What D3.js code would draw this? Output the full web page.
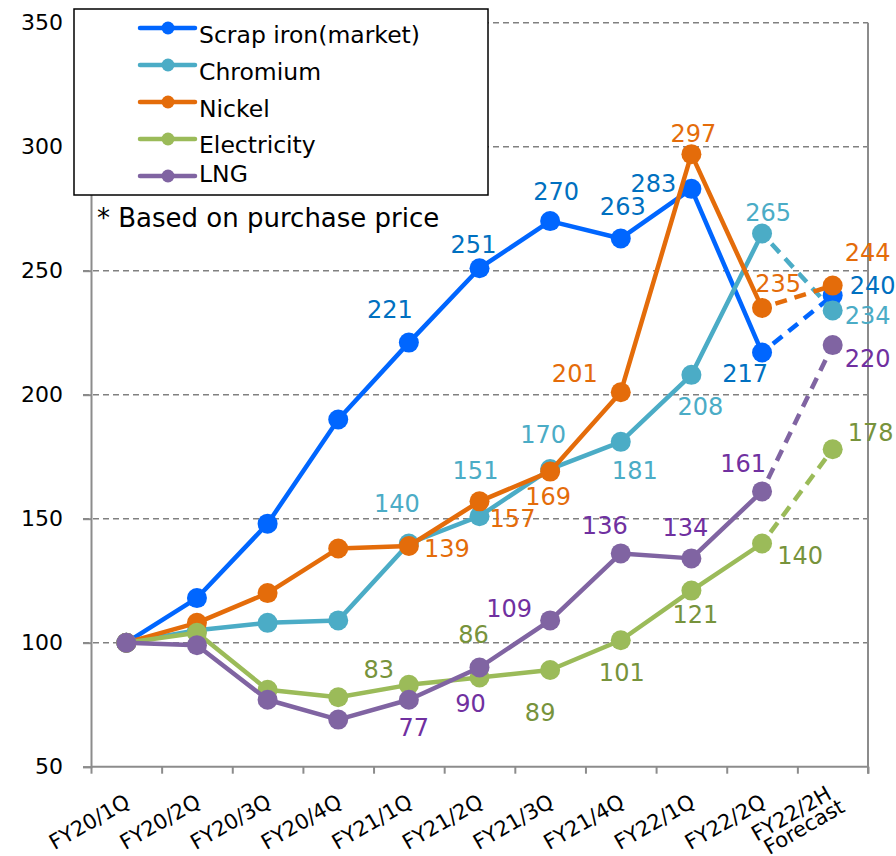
<!DOCTYPE html>
<html>
<head>
<meta charset="utf-8">
<title>Cost index</title>
<script src="https://d3js.org/d3.v7.min.js"></script>
<style>
    body {
        margin: 0;
        background: #ffffff;
        font-family: "DejaVu Sans", Verdana, sans-serif;
    }
    .grid line {
        stroke: #808080;
        stroke-width: 1.5;
        stroke-dasharray: 6, 4;
    }
    .axis path, .axis line {
        stroke: #8c8c8c;
        stroke-width: 2;
    }
    .axis text {
        fill: #000;
    }
    .val {
        font-size: 24px;
        text-anchor: middle;
    }
</style>
</head>
<body>
<script>
    // DATA //
    var categories = ["FY20/1Q", "FY20/2Q", "FY20/3Q", "FY20/4Q", "FY21/1Q", "FY21/2Q",
                      "FY21/3Q", "FY21/4Q", "FY22/1Q", "FY22/2Q", "FY22/2H"];
    var scrapIron   = [100, 118, 148, 190, 221, 251, 270, 263, 283, 217, 240];
    var chromium    = [100, 105, 108, 109, 140, 151, 170, 181, 208, 265, 234];
    var nickel      = [100, 108, 120, 138, 139, 157, 169, 201, 297, 235, 244];
    var electricity = [100, 104, 81, 78, 83, 86, 89, 101, 121, 140, 178];
    var lng         = [100, 99, 77, 69, 77, 90, 109, 136, 134, 161, 220];
    var seriesNames = ["Scrap iron(market)", "Chromium", "Nickel", "Electricity", "LNG"];
    var yTicks = [50, 100, 150, 200, 250, 300, 350];
    var firstLabelled = 4;   // values are printed from FY21/1Q on
    var forecastFrom = 9;    // last segment is the forecast (dashed)

    // label placement: offset of the label centre from its point, FY21/1Q .. FY22/2H
    var scrapPos = [[-19,-33],[-6,-24],[6,-30],[2,-32],[-38,-6],[-17,21],[40,-10]];
    var chromPos = [[-12,-40],[-4,-46],[-7,-35],[14,29],[9,31],[6,-21],[35,5]];
    var nickelPos = [[38,2],[33,17],[-2,25],[-46,-19],[2,-21],[16,-25],[35,-33]];
    var elecPos = [[-30,-16],[-6,-43],[-10,42],[1,32],[4,24],[38,12],[38,-17]];
    var lngPos = [[5,28],[-9,36],[-41,-12],[-16,-28],[-6,-31],[-19,-28],[35,13]];

    var series = [
        {name: seriesNames[0], values: scrapIron,   line: "#0066ff", text: "#0070c0", pos: scrapPos},
        {name: seriesNames[1], values: chromium,    line: "#4bacc6", text: "#4bacc6", pos: chromPos},
        {name: seriesNames[2], values: nickel,      line: "#e46c0a", text: "#e46c0a", pos: nickelPos},
        {name: seriesNames[3], values: electricity, line: "#9bbb59", text: "#77933c", pos: elecPos},
        {name: seriesNames[4], values: lng,         line: "#8064a2", text: "#7030a0", pos: lngPos}
    ];

    var width = 896, height = 856;
    var plot = {left: 91, right: 868, top: 22.7, bottom: 766.7};

    var svg = d3.select("body").append("svg")
        .attr("width", width)
        .attr("height", height);

    var x = d3.scaleBand()
        .domain(categories)
        .range([plot.left, plot.right]);
    var cx = function(i) { return x(categories[i]) + x.bandwidth() / 2; };

    var y = d3.scaleLinear()
        .domain([50, 350])
        .range([plot.bottom, plot.top]);

    // GRID //
    svg.append("g")
        .attr("class", "grid")
        .selectAll("line")
        .data(yTicks.slice(1))
        .enter()
        .append("line")
        .attr("x1", plot.left - 8)
        .attr("x2", plot.right)
        .attr("y1", function(d) { return y(d); })
        .attr("y2", function(d) { return y(d); });

    // right border
    svg.append("line")
        .attr("x1", plot.right).attr("x2", plot.right)
        .attr("y1", plot.top).attr("y2", plot.bottom + 7)
        .attr("stroke", "#8c8c8c")
        .attr("stroke-width", 2);

    // AXES //
    var yAxis = svg.append("g")
        .attr("class", "axis")
        .attr("transform", "translate(" + plot.left + ",0)")
        .call(d3.axisLeft(y).tickValues(yTicks).tickSize(8).tickPadding(20));
    yAxis.selectAll("text")
        .style("font-size", "22px")
        .style("font-family", "DejaVu Sans, Verdana, sans-serif");

    // bottom axis, ticks sit between the categories
    var xBound = d3.scaleLinear().domain([0, categories.length]).range([plot.left, plot.right]);
    var xAxis = svg.append("g")
        .attr("class", "axis")
        .attr("transform", "translate(0," + plot.bottom + ")")
        .call(d3.axisBottom(xBound).tickValues(d3.range(categories.length + 1)).tickSize(7).tickFormat(""));
    xAxis.select(".domain").attr("d", "M" + plot.left + ",0H" + plot.right);

    var catLabels = svg.append("g")
        .selectAll("text")
        .data(categories)
        .enter()
        .append("text")
        .attr("transform", function(d, i) {
            return "translate(" + (cx(i) + 5) + ",806) rotate(-30)";
        })
        .attr("text-anchor", "end")
        .style("font-size", "21px")
        .attr("fill", "#000");
    catLabels.each(function(d, i) {
        var t = d3.select(this);
        if (i === categories.length - 1) {
            t.append("tspan").attr("x", 0).attr("dy", "-0.45em").text(d);
            t.append("tspan").attr("x", 5).attr("dy", "0.85em").text("Forecast");
        } else {
            t.text(d);
        }
    });

    // LEGEND //
    var legend = svg.append("g");
    legend.append("rect")
        .attr("x", 74).attr("y", 9)
        .attr("width", 414).attr("height", 186)
        .attr("fill", "#fff")
        .attr("stroke", "#000")
        .attr("stroke-width", 1.5);
    var legendY = [28, 65, 102, 139, 176];
    var legendBase = [43, 80, 117, 153, 182];
    series.forEach(function(s, i) {
        legend.append("line")
            .attr("x1", 140).attr("x2", 195)
            .attr("y1", legendY[i]).attr("y2", legendY[i])
            .attr("stroke", s.line)
            .attr("stroke-width", 4.5)
            .attr("stroke-linecap", "round");
        legend.append("circle")
            .attr("cx", 168).attr("cy", legendY[i]).attr("r", 6.5)
            .attr("fill", s.line);
        legend.append("text")
            .attr("x", 199).attr("y", legendBase[i])
            .style("font-size", "23.5px")
            .attr("fill", "#000")
            .text(s.name);
    });

    svg.append("text")
        .attr("x", 97).attr("y", 227)
        .style("font-size", "26px")
        .attr("fill", "#000")
        .text("* Based on purchase price");

    // SERIES //
    var line = d3.line()
        .x(function(d) { return cx(d.i); })
        .y(function(d) { return y(d.v); });

    series.forEach(function(s) {
        var pts = s.values.map(function(v, i) { return {i: i, v: v}; });
        var g = svg.append("g");
        g.append("path")
            .attr("d", line(pts.slice(0, forecastFrom + 1)))
            .attr("fill", "none")
            .attr("stroke", s.line)
            .attr("stroke-width", 4.5)
            .attr("stroke-linejoin", "round");
        g.append("path")
            .attr("d", line(pts.slice(forecastFrom)))
            .attr("fill", "none")
            .attr("stroke", s.line)
            .attr("stroke-width", 4.5)
            .attr("stroke-dasharray", "12,8")
            .attr("stroke-dashoffset", -14);
        g.selectAll("circle")
            .data(pts)
            .enter()
            .append("circle")
            .attr("cx", function(d) { return cx(d.i); })
            .attr("cy", function(d) { return y(d.v); })
            .attr("r", 10)
            .attr("fill", s.line);
    });

    // VALUE LABELS //
    series.forEach(function(s) {
        var pts = s.values.map(function(v, i) { return {i: i, v: v}; }).slice(firstLabelled);
        svg.append("g")
            .selectAll("text")
            .data(pts)
            .enter()
            .append("text")
            .attr("class", "val")
            .attr("x", function(d, k) { return cx(d.i) + s.pos[k][0]; })
            .attr("y", function(d, k) { return y(d.v) + s.pos[k][1]; })
            .attr("dy", "0.36em")
            .attr("fill", s.text)
            .text(function(d) { return d.v; });
    });
</script>
</body>
</html>
